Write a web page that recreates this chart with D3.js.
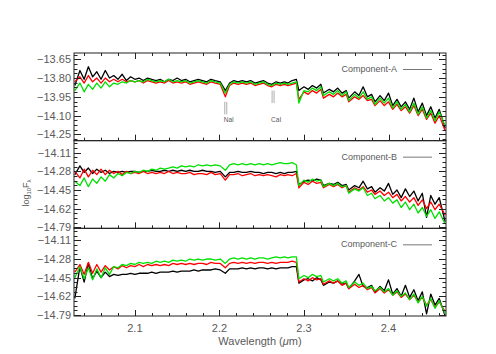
<!DOCTYPE html>
<html><head><meta charset="utf-8">
<script src="https://cdn.jsdelivr.net/npm/d3@7"></script>
<style>body{margin:0;background:#fff}svg{display:block}text{font-family:"Liberation Sans",Arial,sans-serif;fill:#5a5a5a}</style>
</head><body><svg id="c" width="496" height="354"></svg>
<script>
const wavelength = [2.029,2.035,2.040,2.045,2.050,2.055,2.060,2.065,2.070,2.075,
2.080,2.085,2.090,2.095,2.100,2.105,2.110,2.115,2.120,2.125,
2.130,2.135,2.140,2.145,2.150,2.155,2.160,2.165,2.170,2.175,
2.180,2.185,2.190,2.195,2.201,2.207,2.212,2.217,2.222,2.227,
2.232,2.237,2.242,2.247,2.252,2.257,2.262,2.267,2.272,2.277,
2.281,2.286,2.291,2.294,2.300,2.305,2.310,2.315,2.320,2.323,
2.330,2.335,2.340,2.345,2.350,2.353,2.360,2.365,2.370,2.375,
2.380,2.384,2.390,2.395,2.400,2.405,2.410,2.415,2.420,2.425,
2.430,2.435,2.440,2.445,2.450,2.455,2.460,2.467];

const compA_black = [-13.86,-13.74,-13.81,-13.71,-13.79,-13.75,-13.81,-13.74,-13.80,-13.78,
-13.81,-13.77,-13.82,-13.79,-13.81,-13.80,-13.82,-13.80,-13.81,-13.82,
-13.81,-13.83,-13.81,-13.82,-13.80,-13.82,-13.81,-13.83,-13.82,-13.81,
-13.82,-13.83,-13.81,-13.82,-13.83,-13.90,-13.84,-13.82,-13.83,-13.82,
-13.83,-13.82,-13.84,-13.83,-13.82,-13.84,-13.85,-13.83,-13.84,-13.83,
-13.84,-13.82,-13.81,-13.90,-13.87,-13.89,-13.86,-13.88,-13.85,-13.92,
-13.89,-13.91,-13.88,-13.92,-13.90,-13.96,-13.91,-13.94,-13.87,-13.95,
-13.93,-13.99,-13.94,-13.98,-13.92,-14.02,-13.97,-14.03,-13.99,-14.05,
-13.96,-14.07,-14.00,-14.10,-14.03,-14.12,-14.05,-14.20];
const compA_red = [-13.83,-13.79,-13.84,-13.78,-13.83,-13.80,-13.84,-13.80,-13.83,-13.81,
-13.83,-13.81,-13.83,-13.82,-13.83,-13.82,-13.84,-13.82,-13.83,-13.84,
-13.83,-13.84,-13.82,-13.84,-13.83,-13.84,-13.83,-13.85,-13.84,-13.83,
-13.84,-13.85,-13.83,-13.84,-13.85,-13.95,-13.86,-13.84,-13.85,-13.84,
-13.85,-13.84,-13.86,-13.85,-13.84,-13.86,-13.87,-13.85,-13.86,-13.85,
-13.86,-13.85,-13.84,-13.97,-13.91,-13.93,-13.90,-13.92,-13.89,-13.96,
-13.93,-13.95,-13.92,-13.95,-13.93,-13.99,-13.95,-13.97,-13.94,-13.98,
-13.97,-14.02,-13.98,-14.02,-13.99,-14.05,-14.01,-14.06,-14.03,-14.08,
-14.02,-14.10,-14.05,-14.13,-14.08,-14.16,-14.10,-14.22];
const compA_green = [-13.90,-13.84,-13.91,-13.85,-13.89,-13.84,-13.88,-13.83,-13.87,-13.84,
-13.85,-13.83,-13.84,-13.82,-13.83,-13.82,-13.83,-13.81,-13.82,-13.83,
-13.82,-13.83,-13.81,-13.83,-13.82,-13.83,-13.82,-13.84,-13.83,-13.82,
-13.83,-13.84,-13.82,-13.83,-13.84,-13.92,-13.85,-13.83,-13.84,-13.83,
-13.84,-13.83,-13.85,-13.84,-13.83,-13.85,-13.86,-13.84,-13.85,-13.84,
-13.85,-13.84,-13.83,-14.00,-13.90,-13.91,-13.88,-13.90,-13.87,-13.94,
-13.91,-13.93,-13.90,-13.94,-13.91,-13.98,-13.93,-13.96,-13.91,-13.97,
-13.95,-14.01,-13.96,-14.00,-13.96,-14.04,-13.99,-14.05,-14.01,-14.07,
-14.00,-14.09,-14.03,-14.12,-14.06,-14.14,-14.07,-14.18];

const compB_black = [-14.31,-14.23,-14.29,-14.25,-14.30,-14.26,-14.29,-14.27,-14.30,-14.28,
-14.29,-14.28,-14.29,-14.28,-14.28,-14.29,-14.28,-14.28,-14.27,-14.28,
-14.28,-14.27,-14.28,-14.27,-14.28,-14.27,-14.28,-14.27,-14.28,-14.28,
-14.27,-14.28,-14.28,-14.29,-14.28,-14.33,-14.29,-14.29,-14.28,-14.29,
-14.29,-14.28,-14.29,-14.29,-14.30,-14.29,-14.29,-14.30,-14.29,-14.30,
-14.29,-14.29,-14.28,-14.40,-14.37,-14.36,-14.37,-14.35,-14.36,-14.41,
-14.39,-14.40,-14.38,-14.41,-14.40,-14.45,-14.41,-14.43,-14.37,-14.44,
-14.42,-14.47,-14.43,-14.46,-14.39,-14.49,-14.45,-14.52,-14.44,-14.51,
-14.46,-14.55,-14.48,-14.70,-14.50,-14.58,-14.52,-14.74];
const compB_red = [-14.28,-14.34,-14.26,-14.33,-14.27,-14.31,-14.26,-14.31,-14.27,-14.30,
-14.28,-14.31,-14.28,-14.30,-14.29,-14.30,-14.28,-14.30,-14.29,-14.30,
-14.29,-14.30,-14.28,-14.30,-14.29,-14.30,-14.30,-14.29,-14.31,-14.30,
-14.30,-14.31,-14.29,-14.31,-14.30,-14.36,-14.31,-14.31,-14.30,-14.32,
-14.31,-14.30,-14.32,-14.31,-14.32,-14.31,-14.32,-14.33,-14.31,-14.32,
-14.31,-14.32,-14.30,-14.43,-14.38,-14.40,-14.37,-14.39,-14.38,-14.43,
-14.40,-14.42,-14.40,-14.43,-14.41,-14.47,-14.43,-14.45,-14.42,-14.47,
-14.45,-14.49,-14.46,-14.50,-14.47,-14.52,-14.49,-14.55,-14.51,-14.56,
-14.52,-14.59,-14.54,-14.62,-14.56,-14.63,-14.58,-14.68];
const compB_green = [-14.37,-14.41,-14.34,-14.42,-14.35,-14.39,-14.33,-14.37,-14.31,-14.34,
-14.30,-14.32,-14.29,-14.30,-14.28,-14.29,-14.27,-14.28,-14.26,-14.27,
-14.25,-14.26,-14.25,-14.24,-14.25,-14.23,-14.24,-14.23,-14.24,-14.22,
-14.23,-14.22,-14.23,-14.22,-14.23,-14.27,-14.22,-14.21,-14.22,-14.21,
-14.22,-14.21,-14.22,-14.21,-14.22,-14.21,-14.22,-14.21,-14.20,-14.21,
-14.21,-14.20,-14.22,-14.41,-14.36,-14.38,-14.35,-14.37,-14.36,-14.42,
-14.39,-14.41,-14.39,-14.42,-14.41,-14.48,-14.44,-14.46,-14.43,-14.50,
-14.48,-14.53,-14.50,-14.55,-14.52,-14.57,-14.54,-14.61,-14.56,-14.63,
-14.58,-14.66,-14.61,-14.69,-14.63,-14.71,-14.65,-14.76];

const compC_black = [-14.64,-14.35,-14.49,-14.32,-14.46,-14.39,-14.45,-14.40,-14.44,-14.42,
-14.43,-14.42,-14.42,-14.41,-14.42,-14.41,-14.41,-14.41,-14.40,-14.41,
-14.40,-14.40,-14.40,-14.39,-14.40,-14.39,-14.39,-14.39,-14.38,-14.39,
-14.38,-14.38,-14.38,-14.37,-14.38,-14.41,-14.37,-14.37,-14.37,-14.36,
-14.37,-14.36,-14.37,-14.36,-14.36,-14.37,-14.36,-14.37,-14.36,-14.36,
-14.36,-14.35,-14.35,-14.50,-14.47,-14.46,-14.48,-14.45,-14.47,-14.52,
-14.49,-14.50,-14.48,-14.51,-14.50,-14.55,-14.48,-14.42,-14.53,-14.54,
-14.52,-14.58,-14.53,-14.57,-14.47,-14.60,-14.55,-14.62,-14.52,-14.63,
-14.56,-14.66,-14.58,-14.78,-14.60,-14.70,-14.64,-14.80];
const compC_red = [-14.40,-14.33,-14.42,-14.31,-14.41,-14.33,-14.40,-14.34,-14.38,-14.35,
-14.37,-14.34,-14.36,-14.34,-14.35,-14.33,-14.35,-14.33,-14.34,-14.33,
-14.34,-14.33,-14.34,-14.32,-14.33,-14.32,-14.33,-14.32,-14.33,-14.32,
-14.32,-14.33,-14.31,-14.32,-14.32,-14.36,-14.32,-14.31,-14.32,-14.31,
-14.32,-14.31,-14.32,-14.31,-14.31,-14.32,-14.31,-14.32,-14.31,-14.31,
-14.31,-14.30,-14.31,-14.49,-14.46,-14.48,-14.45,-14.47,-14.46,-14.51,
-14.48,-14.50,-14.48,-14.52,-14.50,-14.55,-14.51,-14.54,-14.52,-14.56,
-14.54,-14.59,-14.55,-14.59,-14.56,-14.61,-14.58,-14.63,-14.60,-14.65,
-14.61,-14.67,-14.63,-14.70,-14.65,-14.72,-14.67,-14.76];
const compC_green = [-14.45,-14.35,-14.46,-14.36,-14.47,-14.37,-14.45,-14.36,-14.42,-14.35,
-14.36,-14.33,-14.34,-14.32,-14.33,-14.31,-14.32,-14.31,-14.32,-14.30,
-14.31,-14.30,-14.31,-14.29,-14.30,-14.29,-14.30,-14.28,-14.29,-14.28,
-14.29,-14.28,-14.28,-14.29,-14.28,-14.32,-14.28,-14.27,-14.28,-14.27,
-14.28,-14.27,-14.28,-14.27,-14.27,-14.28,-14.27,-14.26,-14.27,-14.26,
-14.27,-14.26,-14.26,-14.46,-14.43,-14.45,-14.42,-14.44,-14.43,-14.49,
-14.46,-14.48,-14.46,-14.50,-14.48,-14.54,-14.49,-14.52,-14.50,-14.55,
-14.53,-14.57,-14.54,-14.58,-14.55,-14.61,-14.57,-14.62,-14.59,-14.65,
-14.60,-14.68,-14.62,-14.71,-14.64,-14.73,-14.66,-14.78];

const componentNames = ["Component-A","Component-B","Component-C"];
const xDomain = [2.028, 2.468];
const xTickValues = [2.1, 2.2, 2.3, 2.4];
const yDomainA = [-14.3, -13.6];
const yDomainBC = [-14.8, -14.0];
const yTicksA = [-13.65, -13.80, -13.95, -14.10, -14.25];
const yTicksBC = [-14.11, -14.28, -14.45, -14.62, -14.79];
const lineIds = ["NaI", "CaI"];
const lineWaves = [2.2075, 2.2635];

const seriesColors = ["#000000", "#ff0000", "#00e000"];
const panelSeries = [
  [compA_black, compA_red, compA_green],
  [compB_black, compB_red, compB_green],
  [compC_black, compC_red, compC_green]
];
const panelDomains = [yDomainA, yDomainBC, yDomainBC];
const panelTicks = [yTicksA, yTicksBC, yTicksBC];

const svg = d3.select("#c");
const L = 74, R = 446, T = 53, B = 316;
const ph = (B - T) / 3;
const x = d3.scaleLinear().domain(xDomain).range([L, R]);
const fmt = d3.format(".2f");
const axisColor = "#222";

const xMinor = d3.range(2.04, 2.4701, 0.02);

panelSeries.forEach((series, p) => {
  const top = T + p * ph, bot = top + ph;
  const y = d3.scaleLinear().domain(panelDomains[p]).range([bot, top]);
  const g = svg.append("g");
  const cid = "clip" + p;
  svg.append("clipPath").attr("id", cid).append("rect")
    .attr("x", L).attr("y", top).attr("width", R - L).attr("height", ph);
  const line = d3.line().x((d, i) => x(wavelength[i])).y(d => y(d));
  const lg = g.append("g").attr("clip-path", `url(#${cid})`);
  series.forEach((s, k) => {
    lg.append("path").datum(s).attr("d", line)
      .attr("fill", "none").attr("stroke", seriesColors[k])
      .attr("stroke-width", 1.3).attr("stroke-linejoin", "round");
  });

  g.append("rect").attr("x", L).attr("y", top).attr("width", R - L).attr("height", ph)
    .attr("fill", "none").attr("stroke", axisColor).attr("stroke-width", 1);

  const tk = panelTicks[p];
  const step = tk[0] - tk[1];
  const minorStep = step / 4;
  const [d0, d1] = panelDomains[p];
  const minors = [];
  for (let v = tk[0] + step; v >= d0 - 1e-9; v -= minorStep) {
    if (v <= d1 + 1e-9 && v >= d0 - 1e-9) minors.push(v);
  }
  minors.forEach(v => {
    const yy = Math.round(y(v)) + 0.5;
    g.append("line").attr("x1", L).attr("x2", L + 3.5).attr("y1", yy).attr("y2", yy).attr("stroke", axisColor);
    g.append("line").attr("x1", R).attr("x2", R - 3.5).attr("y1", yy).attr("y2", yy).attr("stroke", axisColor);
  });
  tk.forEach(v => {
    const yy = Math.round(y(v)) + 0.5;
    g.append("line").attr("x1", L).attr("x2", L + 7).attr("y1", yy).attr("y2", yy).attr("stroke", axisColor);
    g.append("line").attr("x1", R).attr("x2", R - 7).attr("y1", yy).attr("y2", yy).attr("stroke", axisColor);
    g.append("text").attr("x", L - 3).attr("y", y(v)).attr("dy", "0.36em")
      .attr("text-anchor", "end").attr("font-size", 11).text(fmt(v));
  });

  const xt = (yy, dir) => {
    xMinor.forEach(v => {
      const major = xTickValues.some(t => Math.abs(t - v) < 1e-6);
      const xx = Math.round(x(v)) + 0.5;
      g.append("line").attr("x1", xx).attr("x2", xx).attr("y1", yy).attr("y2", yy + dir * (major ? 6 : 3))
        .attr("stroke", axisColor);
    });
  };
  xt(bot, -1);
  if (p === 0) xt(top, 1);

  g.append("text").attr("x", 397).attr("y", top + 16).attr("dy", "0.35em")
    .attr("text-anchor", "end").attr("font-size", 9).text(componentNames[p]);
  g.append("line").attr("x1", 403).attr("x2", 432).attr("y1", top + 16.5).attr("y2", top + 16.5)
    .attr("stroke", "#777").attr("stroke-width", 1);

  if (p === 0) {
    const tops = [-13.99, -13.90];
    lineIds.forEach((name, j) => {
      const xx = x(lineWaves[j]);
      [-1, 1].forEach(o => {
        g.append("line").attr("x1", xx + o).attr("x2", xx + o)
          .attr("y1", y(tops[j])).attr("y2", y(tops[j] - 0.1))
          .attr("stroke", "#999").attr("stroke-width", 0.8);
      });
      g.append("text").attr("x", xx - 2).attr("y", y(-14.135)).attr("dy", "0.35em")
        .attr("font-size", 6.5).text(name);
    });
  }
});

xTickValues.forEach(v => {
  svg.append("text").attr("x", x(v)).attr("y", 328).attr("dy", "0.35em")
    .attr("text-anchor", "middle").attr("font-size", 11).text(v.toFixed(1));
});
const xt = svg.append("text").attr("x", (L + R) / 2).attr("y", 341).attr("dy", "0.35em")
  .attr("text-anchor", "middle").attr("font-size", 11);
xt.append("tspan").text("Wavelength (");
xt.append("tspan").attr("font-style", "italic").text("μ");
xt.append("tspan").text("m)");

const yt = svg.append("text").attr("transform", "translate(29,193) rotate(-90)")
  .attr("text-anchor", "middle").attr("font-size", 9);
yt.append("tspan").text("log");
yt.append("tspan").attr("font-size", 6).attr("dy", 2).text("10");
yt.append("tspan").attr("dy", -2).text("F");
yt.append("tspan").attr("font-size", 6).attr("dy", 2).text("λ");
</script></body></html>
